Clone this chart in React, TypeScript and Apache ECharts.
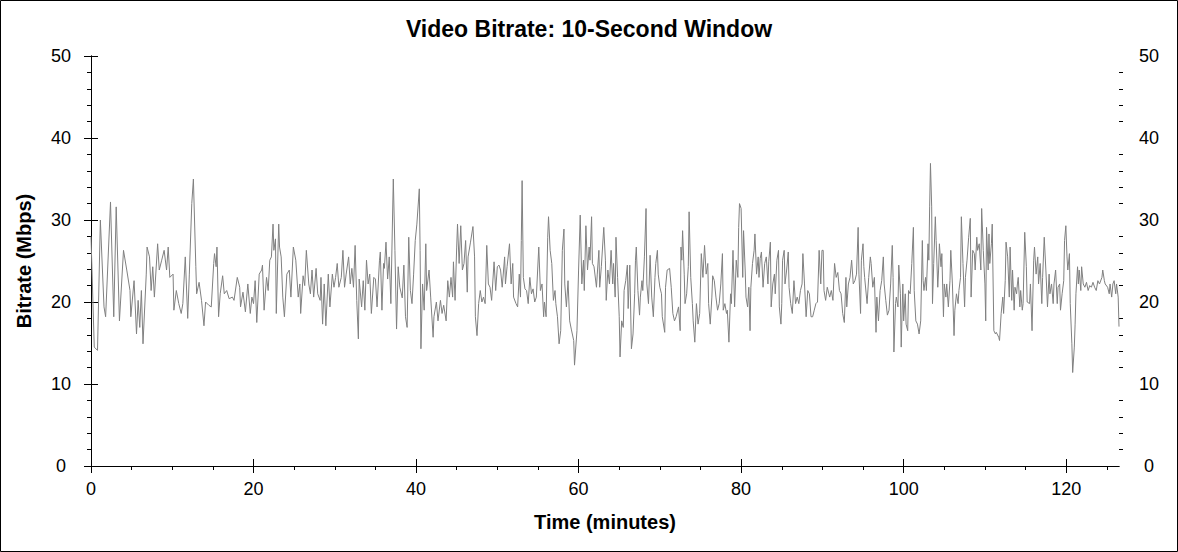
import React from "react";
import * as echarts from "echarts";

const TITLE = "Video Bitrate: 10-Second Window";
const X_NAME = "Time (minutes)";
const Y_NAME = "Bitrate (Mbps)";
const X_MAX = 126.5;
const Y_MAX = 50;

const xMajor = [0, 20, 40, 60, 80, 100, 120];
const xMinor = [5, 10, 15, 25, 30, 35, 45, 50, 55, 65, 70, 75, 85, 90, 95, 105, 110, 115, 125];
const yMajor = [0, 10, 20, 30, 40, 50];
const yMinor = [2, 4, 6, 8, 12, 14, 16, 18, 22, 24, 26, 28, 32, 34, 36, 38, 42, 44, 46, 48];

// [minute, Mbps]
const samples: [number, number][] = [
  [0, 28], [0.4, 14.5], [0.8, 14.1], [1.15, 30], [1.6, 19.4], [1.8, 18.2], [2.4, 32.2], [2.8, 18.2], [3.1, 31.6], [3.5, 17.7],
  [4.0, 26.3], [4.4, 23.9], [4.8, 21.4], [4.9, 18.2], [5.3, 22.6], [5.6, 16.1], [5.8, 20.2], [6.0, 16.9], [6.2, 21.4], [6.4, 14.9],
  [6.8, 23.4], [6.9, 26.7], [7.2, 25.5], [7.4, 21.4], [7.6, 24.3], [7.8, 20.6], [8.2, 27.1], [8.4, 23.9], [8.7, 25.1], [9.0, 26.3],
  [9.3, 23.9], [9.5, 26.7], [9.7, 23.0], [10.1, 23.4], [10.2, 19.0], [10.5, 21.4], [10.8, 19.8], [11.1, 18.6], [11.3, 19.8], [11.6, 25.5],
  [11.9, 18.0], [12.1, 23.4], [12.4, 32], [12.6, 35],
  [12.9, 24.3], [13.0, 21.0], [13.3, 22.4], [13.6, 20.2], [13.9, 17.1], [14.1, 20.0], [14.5, 19.6], [14.8, 19.4], [15.1, 24.7], [15.2, 25.9],
  [15.4, 24.3], [15.5, 26.7], [15.7, 18.2], [15.9, 21.0], [16.2, 23.2], [16.4, 21.0], [16.7, 21.4], [17.0, 20.4], [17.4, 20.6], [17.6, 20.2],
  [18.0, 23.0], [18.3, 21.8], [18.4, 19.4], [18.7, 21.2], [19.0, 18.8], [19.3, 22.2], [19.6, 18.6], [19.8, 20.6], [20.0, 19.8], [20.2, 22.6],
  [20.4, 17.5], [20.7, 23.4], [21.0, 23.9], [21.1, 24.5], [21.3, 19.0], [21.6, 23.0], [21.8, 21.4], [22.0, 25.1], [22.2, 25.5], [22.4, 29.5],
  [22.5, 26.3], [22.7, 27.7], [22.8, 18.6], [23.1, 29.5], [23.2, 26.7], [23.4, 25.5], [23.6, 20.6], [23.8, 18.2], [24.1, 23.4], [24.4, 23.9],
  [24.6, 20.6], [24.9, 26.7], [25.2, 25.1],
  [25.5, 20.6], [25.7, 22.2], [25.8, 18.6], [26.1, 23.2], [26.3, 22.0], [26.5, 26.3], [26.8, 22.2], [27.0, 21.0], [27.2, 23.9], [27.4, 20.6],
  [27.7, 24.1], [27.9, 21.0], [28.2, 20.2], [28.3, 23.0], [28.5, 17.3], [28.7, 22.2], [28.9, 17.1], [29.2, 23.4], [29.4, 19.4], [29.7, 23.4],
  [29.9, 21.8], [30.1, 23.0], [30.3, 24.7], [30.5, 21.8], [30.8, 23.0], [31.0, 26.3], [31.2, 21.8], [31.4, 23.4], [31.7, 25.5], [31.9, 22.2],
  [32.1, 24.1], [32.3, 21.8], [32.5, 26.9], [32.7, 20.2], [32.9, 15.5], [33.0, 22.8], [33.3, 19.4], [33.5, 22.6], [33.7, 19.0], [33.9, 25.1],
  [34.1, 22.2], [34.3, 23.4], [34.5, 18.6], [34.8, 23.0], [35.0, 22.8], [35.2, 19.4], [35.5, 25.1], [35.6, 26.1], [35.8, 19.0], [36.0, 24.7],
  [36.1, 24.1], [36.3, 27.3], [36.5, 22.8], [36.7, 25.5], [36.9, 19.8], [37.1, 30.0], [37.2, 35.0], [37.4, 26.3], [37.6, 16.7], [37.8, 24.3],
  [38.0, 21.8], [38.3, 20.5], [38.5, 24.5], [38.7, 18.2], [38.9, 16.9], [39.1, 27.9], [39.3, 21.4], [39.5, 19.8], [39.7, 23.4], [39.9, 27.5],
  [40.1, 29.5], [40.4, 33.8], [40.5, 26.3], [40.6, 14.3], [40.8, 22.2], [41.0, 19.0], [41.2, 27.1], [41.3, 21.4], [41.6, 23.9], [41.8, 20.6],
  [42.1, 15.7], [42.2, 18.2], [42.5, 20.0], [42.7, 17.7], [43.0, 20.2], [43.2, 18.6], [43.4, 19.6], [43.7, 17.7], [43.9, 22.6], [44.1, 20.6],
  [44.3, 23.0], [44.5, 20.6], [44.6, 24.9], [44.8, 20.2], [45.0, 26.7], [45.1, 29.5], [45.3, 24.7], [45.5, 29.3], [45.7, 23.9], [45.9, 24.7],
  [46.1, 27.5], [46.3, 21.2], [46.4, 25.5], [46.7, 27.3], [47.0, 29.2], [47.2, 25.5], [47.3, 18.2], [47.5, 15.9], [47.7, 19.8], [47.9, 21.4],
  [48.1, 20.0], [48.3, 20.6], [48.5, 19.8], [48.7, 26.9], [48.9, 22.2], [49.1, 21.8], [49.3, 20.2], [49.6, 24.9], [49.8, 21.4], [50.0, 24.3],
  [50.2, 24.5], [50.4, 23.9], [50.6, 21.8],
  [50.9, 25.5], [51.0, 22.2], [51.2, 24.3], [51.5, 27.1], [51.7, 22.2], [51.9, 24.7], [52.0, 20.6], [52.3, 19.8], [52.5, 19.4], [52.7, 23.4],
  [52.85, 20.6], [52.95, 27.5], [53.05, 34.8], [53.2, 23.0], [53.4, 21.6], [53.6, 21.4], [53.8, 19.8], [54.0, 23.0], [54.2, 21.0], [54.4, 21.6],
  [54.6, 20.0], [54.8, 20.6], [55.1, 26.7], [55.3, 21.4], [55.5, 22.2], [55.7, 18.2], [55.8, 20.0], [56.0, 18.2], [56.2, 27.9], [56.3, 30.4],
  [56.5, 26.3], [56.7, 24.7], [56.9, 20.2], [57.1, 21.4], [57.2, 19.8], [57.4, 18.2], [57.6, 14.9], [57.8, 16.5], [58.0, 26.3], [58.2, 28.9],
  [58.3, 22.2], [58.5, 19.4], [58.7, 22.6], [58.9, 17.7], [59.1, 16.7], [59.4, 15.3], [59.5, 12.3], [59.8, 16.5], [60.0, 23.9], [60.2, 30.6],
  [60.4, 22.2], [60.6, 25.1], [60.7, 21.4], [60.9, 29.3], [61.1, 23.9], [61.3, 26.7], [61.4, 25.1], [61.6, 30.4], [61.7, 24.7], [61.9, 24.3],
  [62.2, 21.8], [62.3, 23.4], [62.5, 26.3], [62.6, 21.8], [62.8, 24.3], [63.1, 29.1],
  [63.3, 25.1], [63.4, 20.2], [63.6, 23.9], [63.8, 22.2], [64.0, 26.3], [64.2, 22.2], [64.3, 24.7], [64.5, 20.6], [64.6, 27.9], [64.8, 23.0],
  [65.0, 18.2], [65.1, 13.3], [65.3, 17.7], [65.5, 16.9], [65.6, 21.4], [65.8, 22.6], [66.0, 24.5], [66.1, 19.2], [66.3, 24.5], [66.5, 14.3],
  [66.7, 16.1], [66.9, 21.0], [67.0, 25.1], [67.1, 26.7], [67.3, 21.4], [67.5, 18.4], [67.6, 20.6], [67.8, 22.6], [67.9, 21.4], [68.1, 25.5],
  [68.3, 31.4], [68.4, 22.2], [68.6, 19.8], [68.8, 25.7], [69.0, 20.6], [69.2, 18.2], [69.4, 23.0], [69.5, 24.7], [69.7, 26.3], [69.8, 23.4],
  [70.0, 21.8], [70.2, 21.0], [70.3, 18.2], [70.6, 16.3], [70.7, 21.8], [70.9, 23.9], [71.2, 24.1], [71.4, 21.8], [71.6, 18.6], [71.8, 17.7],
  [72.0, 18.2], [72.3, 19.4], [72.5, 16.5], [72.6, 26.7], [72.7, 25.1], [72.8, 28.7], [73.0, 23.4], [73.1, 19.8], [73.3, 21.0], [73.5, 24.3],
  [73.6, 31.0], [73.8, 23.0], [74.0, 19.8], [74.1, 17.7], [74.3, 15.1], [74.5, 19.8], [74.7, 17.3], [74.9, 18.6], [75.1, 25.9], [75.3, 23.0],
  [75.5, 26.9], [75.7, 23.4], [75.9, 24.7],
  [76.0, 19.8], [76.2, 17.3], [76.4, 20.6], [76.5, 23.2], [76.7, 22.6], [76.9, 20.6], [77.1, 19.0], [77.3, 19.8], [77.5, 22.2], [77.7, 25.9],
  [77.8, 19.0], [78.0, 19.8], [78.2, 18.6], [78.3, 19.0], [78.5, 15.1], [78.7, 21.0], [78.8, 19.8], [79.0, 26.3], [79.2, 19.4], [79.4, 25.1],
  [79.6, 23.0], [79.7, 29.1], [79.8, 32.0], [80.0, 31.4], [80.2, 23.0], [80.3, 28.7], [80.5, 23.9], [80.6, 20.6], [80.8, 19.4], [80.95, 21.8],
  [81.1, 16.5], [81.2, 21.8], [81.4, 24.7], [81.6, 26.3], [81.7, 28.3], [81.9, 23.4], [82.1, 25.5], [82.2, 23.0], [82.35, 25.3], [82.5, 26.1],
  [82.7, 21.8], [82.9, 24.7], [83.1, 25.5], [83.3, 22.2], [83.4, 24.9], [83.6, 27.3], [83.7, 19.4], [83.9, 22.2], [84.1, 23.4], [84.2, 21.0],
  [84.4, 25.1], [84.6, 26.3], [84.7, 19.4], [84.9, 17.3], [85.0, 19.8], [85.1, 25.1], [85.3, 26.3], [85.4, 22.2], [85.6, 23.9], [85.8, 26.1],
  [85.9, 21.8], [86.1, 19.8], [86.3, 18.6], [86.5, 22.6], [86.7, 19.8], [86.9, 20.6], [87.1, 19.8], [87.3, 21.4], [87.5, 22.2], [87.6, 25.9],
  [87.8, 22.2], [88.0, 18.2], [88.2, 21.4], [88.4, 21.0], [88.6, 18.2],
  [88.8, 18.2], [89.0, 19.0], [89.2, 19.8], [89.4, 20.0], [89.6, 26.3], [89.8, 22.2], [89.95, 26.3], [90.1, 26.3], [90.2, 21.4], [90.4, 20.2],
  [90.6, 21.8], [90.9, 20.6], [91.1, 21.4], [91.3, 20.2], [91.5, 24.7], [91.7, 23.0], [91.9, 23.6], [92.1, 21.4], [92.3, 21.0], [92.5, 18.6],
  [92.7, 17.5], [92.9, 23.0], [93.0, 19.4], [93.2, 22.2], [93.4, 23.0], [93.6, 25.1], [93.8, 22.2], [94.0, 22.6], [94.2, 23.4], [94.4, 29.1],
  [94.5, 23.4], [94.7, 18.6], [94.8, 25.1], [95.0, 27.1], [95.1, 24.3], [95.2, 23.0], [95.5, 19.8], [95.7, 23.0], [95.9, 25.5], [96.0, 24.7],
  [96.2, 21.8], [96.4, 23.0], [96.6, 16.3], [96.7, 20.6], [96.9, 17.7], [97.1, 21.4], [97.3, 22.6], [97.5, 25.5], [97.6, 22.2], [97.8, 20.2],
  [98.0, 18.4], [98.2, 19.0], [98.4, 22.2], [98.6, 26.9], [98.7, 23.0], [98.8, 13.9], [99.0, 19.8], [99.1, 20.6], [99.3, 19.4], [99.4, 24.5],
  [99.6, 21.0], [99.7, 14.5], [99.9, 22.2], [100.0, 17.7], [100.2, 21.0], [100.3, 17.3], [100.5, 16.5], [100.6, 21.4], [100.8, 21.0], [101.0, 24.7],
  [101.2, 29.1],
  [101.3, 21.4], [101.5, 17.7], [101.7, 17.3], [101.9, 16.1], [102.1, 17.7], [102.3, 27.5], [102.4, 22.6], [102.5, 21.4], [102.7, 23.0], [102.8, 21.4],
  [103.0, 27.1], [103.1, 25.1], [103.2, 31.6], [103.3, 36.9], [103.45, 31.6], [103.55, 19.8], [103.7, 24.7], [103.9, 30.4], [104.0, 27.5], [104.2, 21.8],
  [104.3, 23.9], [104.4, 27.1], [104.6, 24.3], [104.7, 25.9], [104.9, 18.2], [105.0, 22.2], [105.2, 20.6], [105.3, 22.2], [105.5, 19.4], [105.7, 22.6],
  [105.8, 26.3], [106.0, 22.2], [106.2, 15.9], [106.3, 19.0], [106.5, 21.0], [106.7, 19.8], [106.8, 21.4], [107.0, 23.0], [107.1, 30.4], [107.3, 24.7],
  [107.5, 19.4], [107.6, 23.0], [107.8, 25.1], [108.0, 27.9], [108.2, 30.2], [108.3, 20.6], [108.5, 26.3], [108.7, 25.9], [108.8, 23.9], [109.0, 27.9],
  [109.1, 26.3], [109.3, 27.1], [109.5, 23.9], [109.6, 31.4], [109.8, 26.3], [110.0, 22.2], [110.1, 17.7], [110.2, 29.1], [110.4, 23.9], [110.5, 28.3],
  [110.6, 24.7], [110.8, 27.1], [110.9, 29.5], [111.1, 16.5], [111.3, 16.1], [111.4, 16.3], [111.7, 15.7], [111.8, 15.3], [112.0, 18.6], [112.2, 20.6],
  [112.3, 18.6], [112.5, 22.6], [112.6, 27.3], [112.8, 25.5], [113.0, 20.6], [113.1, 26.7], [113.3, 20.2], [113.4, 23.9], [113.6, 19.0], [113.7, 21.8],
  [113.9, 21.0], [114.0, 22.2],
  [114.1, 23.0], [114.3, 19.4], [114.4, 21.4], [114.6, 19.0], [114.7, 19.8], [114.9, 28.5], [115.1, 24.3], [115.2, 20.0], [115.5, 19.8], [115.6, 22.2],
  [115.8, 16.5], [116.0, 25.1], [116.1, 26.7], [116.3, 23.4], [116.5, 25.5], [116.6, 22.2], [116.8, 24.7], [117.0, 19.8], [117.1, 23.0], [117.3, 27.9],
  [117.5, 23.9], [117.7, 19.4], [117.9, 23.4], [118.0, 21.0], [118.2, 22.2], [118.4, 19.8], [118.5, 22.2], [118.7, 23.9], [118.9, 19.8], [119.0, 21.8],
  [119.2, 22.2], [119.3, 19.0], [119.5, 21.0], [119.7, 22.6], [119.8, 27.5], [119.96, 29.3], [120.1, 25.5], [120.2, 23.9], [120.4, 25.9], [120.5, 19.8],
  [120.7, 14.9], [120.8, 11.4], [121.0, 14.5], [121.1, 17.3], [121.2, 21.0], [121.4, 24.3], [121.5, 22.2], [121.6, 23.9], [121.8, 21.4], [121.9, 24.3],
  [122.1, 22.2], [122.3, 21.8], [122.5, 22.4], [122.7, 21.4], [122.9, 22.0], [123.1, 21.8], [123.3, 22.4], [123.5, 21.8], [123.7, 21.4], [123.9, 22.6],
  [124.1, 22.2], [124.4, 23.0], [124.5, 23.9], [124.7, 22.6], [124.8, 22.2], [125.1, 21.8], [125.3, 21.0], [125.4, 22.2], [125.6, 20.6], [125.75, 22.2],
  [125.9, 22.6], [126.1, 21.0], [126.2, 22.2], [126.4, 20.6], [126.5, 17.0],
];

const FONT = "'Liberation Sans', Arial, sans-serif";
const black = { color: "#000", width: 1 };

// one axis per tick style (echarts can't draw crossing ticks on a single axis)
function xAxis(position: "top" | "bottom", ticks: number[], inside: boolean, length: number, line: boolean, labels: boolean) {
  return {
    type: "value", position, min: 0, max: X_MAX,
    axisLine: { show: line, lineStyle: black },
    axisTick: { show: true, inside, length, customValues: ticks, lineStyle: black },
    axisLabel: labels
      ? { show: true, customValues: xMajor, margin: 14, color: "#000", fontSize: 18, fontFamily: FONT }
      : { show: false },
    splitLine: { show: false },
    name: labels ? X_NAME : "",
    nameLocation: "middle",
    nameGap: 46,
    nameTextStyle: { color: "#000", fontSize: 20, fontWeight: "bold", fontFamily: FONT },
  };
}

function yAxis(position: "left" | "right", ticks: number[], inside: boolean, length: number, line: boolean, labels: boolean, name = "") {
  return {
    type: "value", position, min: 0, max: Y_MAX,
    axisLine: { show: line, lineStyle: black },
    axisTick: { show: true, inside, length, customValues: ticks, lineStyle: black },
    axisLabel: labels
      ? { show: true, customValues: yMajor, margin: 30, align: "center", color: "#000", fontSize: 18, fontFamily: FONT }
      : { show: false },
    splitLine: { show: false },
    name,
    nameLocation: "middle",
    nameGap: 57,
    nameTextStyle: { color: "#000", fontSize: 20, fontWeight: "bold", fontFamily: FONT },
  };
}

export default function App() {
  const ref = React.useRef<HTMLDivElement>(null);

  React.useEffect(() => {
    document.body.style.margin = "0";
    if (!ref.current) return;
    const c = echarts.init(ref.current, null, { renderer: "svg" });
    c.setOption({
      animation: false,
      backgroundColor: "#fff",
      title: {
        text: TITLE, left: "center", top: 12,
        textStyle: { color: "#000", fontSize: 23, fontWeight: "bold", fontFamily: FONT },
      },
      grid: { left: 91, right: 59, top: 56, bottom: 86 },
      xAxis: [
        xAxis("bottom", xMajor, false, 7, true, true),
        xAxis("bottom", xMajor, true, 7, false, false),
        xAxis("bottom", xMinor, false, 4, false, false),
        xAxis("top", xMajor, true, 7, true, false),
        xAxis("top", xMinor, true, 4, false, false),
      ],
      yAxis: [
        yAxis("left", yMajor, false, 7, true, true, Y_NAME),
        yAxis("left", yMajor, true, 7, false, false),
        yAxis("left", yMinor, false, 4, false, false),
        yAxis("right", yMajor, false, 7, true, true),
        yAxis("right", yMajor, true, 7, false, false),
        yAxis("right", yMinor, false, 4, false, false),
      ],
      graphic: [
        {
          type: "rect", silent: true, z: 100,
          shape: { x: 0.5, y: 0.5, width: 1177, height: 551 },
          style: { fill: "none", stroke: "#000", lineWidth: 1 },
        },
      ],
      series: [
        {
          type: "line", xAxisIndex: 0, yAxisIndex: 0, data: samples,
          showSymbol: false, symbol: "none", silent: true,
          lineStyle: { color: "#808080", width: 1 },
        },
      ],
    });
    return () => c.dispose();
  }, []);

  return <div ref={ref} style={{ width: 1178, height: 552 }} />;
}
